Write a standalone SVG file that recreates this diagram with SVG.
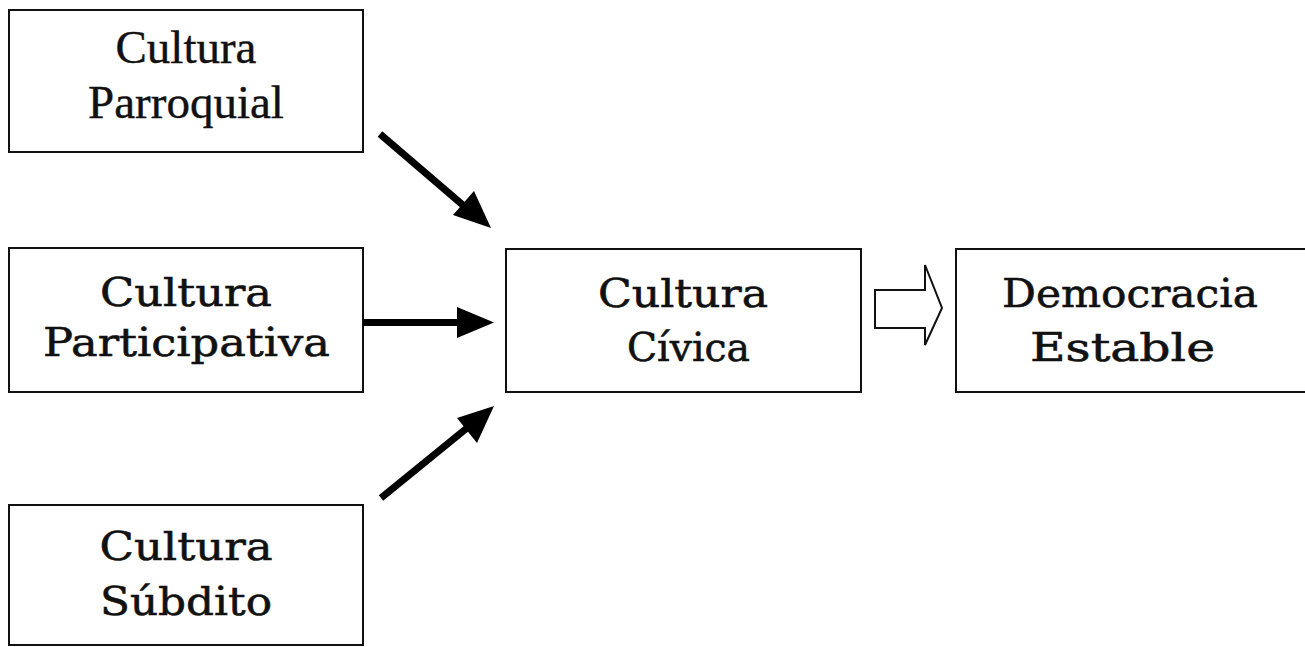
<svg xmlns="http://www.w3.org/2000/svg" width="1305" height="647" viewBox="0 0 1305 647">
<style>
.box{fill:#fff;stroke:#111;stroke-width:2}
.t{font-family:"DejaVu Serif","Liberation Serif",serif;font-size:40px;fill:#111;stroke:#111;stroke-width:0.6;text-anchor:middle}
.tt{font-family:"Liberation Serif",serif;font-size:47px;fill:#111;stroke:#111;stroke-width:0.4;text-anchor:middle}
.conn{stroke:#000;stroke-width:7;fill:none}
</style>
<g id="n-parroquial">
<rect class="box" x="9" y="10" width="354" height="142"/>
<text class="tt" x="186" y="63">Cultura</text>
<text class="tt" x="186" y="118">Parroquial</text>
</g>
<g id="n-participativa">
<rect class="box" x="9" y="248" width="354" height="144"/>
<text class="t" x="186" y="306" textLength="172" lengthAdjust="spacingAndGlyphs">Cultura</text>
<text class="t" x="186.5" y="356" textLength="287" lengthAdjust="spacingAndGlyphs">Participativa</text>
</g>
<g id="n-subdito">
<rect class="box" x="9" y="505" width="354" height="140"/>
<text class="t" x="186" y="560" textLength="173" lengthAdjust="spacingAndGlyphs">Cultura</text>
<text class="t" x="186" y="615" textLength="172" lengthAdjust="spacingAndGlyphs">Súbdito</text>
</g>
<g id="n-civica">
<rect class="box" x="506" y="249" width="355" height="143"/>
<text class="t" x="683" y="307" textLength="170" lengthAdjust="spacingAndGlyphs">Cultura</text>
<text class="t" x="688.5" y="361" textLength="123" lengthAdjust="spacingAndGlyphs">Cívica</text>
</g>
<g id="n-democracia">
<rect class="box" x="956" y="249" width="360" height="143"/>
<text class="t" x="1130" y="307" textLength="256" lengthAdjust="spacingAndGlyphs">Democracia</text>
<text class="t" x="1122.5" y="361" textLength="185" lengthAdjust="spacingAndGlyphs">Estable</text>
</g>
<g id="connectors">
<line class="conn" x1="380" y1="134" x2="464" y2="206"/>
<path d="M491,228 L453,215 L474,191 z" fill="#000"/>
<line class="conn" x1="363" y1="322.5" x2="460" y2="322.5"/>
<path d="M494,322.5 L457,307 L457,338 z" fill="#000"/>
<line class="conn" x1="381" y1="498" x2="467" y2="428"/>
<path d="M494,406 L477,443 L457,418 z" fill="#000"/>
<path d="M875,290 L925,290 L925,265 L942,308 L925,345 L925,328 L875,328 z" fill="#fff" stroke="#111" stroke-width="2"/>
</g>
</svg>
